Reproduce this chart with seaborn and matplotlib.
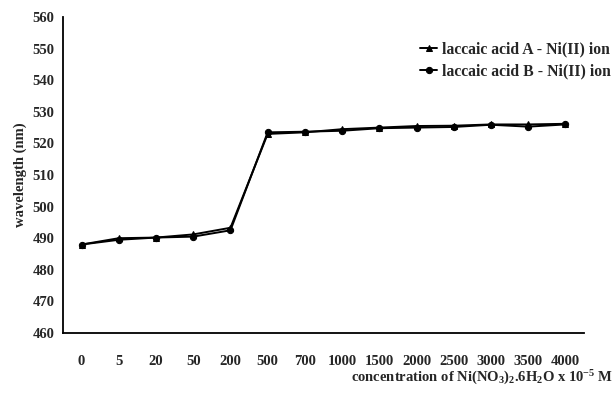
import matplotlib
matplotlib.use("Agg")
import matplotlib.pyplot as plt
import seaborn as sns
import pandas as pd
import numpy as np

concentrations = ["0", "5", "20", "50", "200", "500", "700", "1000", "1500",
                  "2000", "2500", "3000", "3500", "4000"]
acid_a = [488.0, 490.0, 490.2, 491.2, 493.3, 523.0, 523.5, 524.5, 525.0,
          525.5, 525.6, 526.0, 526.0, 526.2]
acid_b = [488.0, 489.5, 490.2, 490.5, 492.5, 523.5, 523.7, 524.0, 524.8,
          525.0, 525.2, 525.9, 525.3, 526.0]
series_names = ["laccaic acid A - Ni(II) ion", "laccaic acid B - Ni(II) ion"]
y_ticks = list(range(460, 561, 10))

sns.set_theme(style="white")
plt.rcParams["font.family"] = ["Liberation Serif", "DejaVu Serif"]
plt.rcParams["font.weight"] = "bold"
plt.rcParams["mathtext.default"] = "regular"

df = pd.DataFrame({
    "conc": concentrations * 2,
    "wavelength": acid_a + acid_b,
    "series": [series_names[0]] * len(acid_a) + [series_names[1]] * len(acid_b),
})

fig = plt.figure(figsize=(6.15, 3.96), dpi=100)
ax = fig.add_axes([63 / 615, 1 - 333 / 396, (584 - 63) / 615, (333 - 17) / 396])

sns.lineplot(data=df, x="conc", y="wavelength", hue="series", style="series",
             markers=["^", "o"], dashes=False, palette=["black", "black"],
             linewidth=1.4, markersize=4.5, markeredgecolor="black", ax=ax,
             sort=False)

ax.set_xlim(-0.5, len(concentrations) - 0.5)
ax.set_ylim(460, 560)
ax.set_yticks(y_ticks)
ax.set_yticklabels([str(v) for v in y_ticks], fontsize=10.5, fontweight="bold")
ax.set_xticks(range(len(concentrations)))
ax.set_xticklabels(concentrations, fontsize=10.5, fontweight="bold")
ax.set_xticks(np.arange(-0.5, len(concentrations), 1.0), minor=True)
ax.tick_params(axis="x", which="major", length=0, pad=16)
ax.tick_params(axis="x", which="minor", length=4, width=1.2, direction="out", color="black")
ax.tick_params(axis="y", which="major", length=4, width=1.2, direction="out", color="black", pad=2)

for side in ["top", "right"]:
    ax.spines[side].set_visible(False)
for side in ["left", "bottom"]:
    ax.spines[side].set_color("black")
    ax.spines[side].set_linewidth(1.3)

ax.set_xlabel("")
ax.set_ylabel("wavelength (nm)", fontsize=10.5, fontweight="bold", labelpad=4)

leg = ax.legend(loc="upper left", bbox_to_anchor=(420 / 615, 1 - 41 / 396),
                bbox_transform=fig.transFigure, frameon=False,
                fontsize=11.3, handlelength=1.1, handletextpad=0.3, labelspacing=0.4,
                borderpad=0, borderaxespad=0)
for t in leg.get_texts():
    t.set_fontweight("bold")

fig.text(0.997, 1 - 378 / 396,
         "concentration of Ni(NO$_3$)$_2$.6H$_2$O x 10$^{-5}$ M",
         ha="right", va="center", fontsize=10.5, fontweight="bold")

fig.savefig("out.png", dpi=100, facecolor="white")
